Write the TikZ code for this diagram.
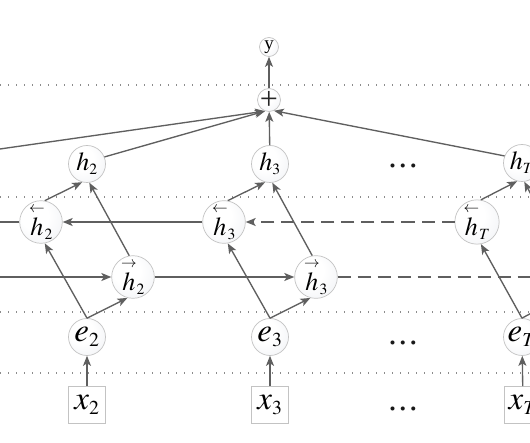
\documentclass[tikz,border=0pt]{standalone}
\usepackage{amsmath}
\usepackage{mathptmx}
\usepackage[no-math]{fontspec}
\setmainfont{Liberation Serif}
\usetikzlibrary{arrows.meta}

\definecolor{lc}{RGB}{95,95,95}
\definecolor{dc}{RGB}{140,140,140}
\definecolor{bc}{RGB}{195,195,195}
\definecolor{shA}{RGB}{246,247,249}
\definecolor{shB}{RGB}{226,230,235}
\definecolor{shC}{RGB}{200,206,212}
\pgfdeclareradialshading{nodeball}{\pgfpoint{-10bp}{10bp}}{color(0bp)=(white); color(16bp)=(white); color(30bp)=(shA); color(46bp)=(shB); color(62bp)=(shC)}

\newcommand{\hnode}[1]{{\fontsize{26}{26}\selectfont$h_{\scriptscriptstyle #1}$}}
\newcommand{\hback}[1]{{\fontsize{26}{26}\selectfont${\overset{\scriptscriptstyle\leftarrow}{h}}_{\scriptscriptstyle #1}$}}
\newcommand{\hfwd}[1]{{\fontsize{26}{26}\selectfont${\overset{\scriptscriptstyle\rightarrow}{h}}_{\scriptscriptstyle #1}$}}
\newcommand{\enode}[1]{{\fontsize{33}{33}\selectfont$e_{\scriptscriptstyle #1}$}}
\newcommand{\xnode}[1]{{\fontsize{33}{33}\selectfont$x_{\scriptscriptstyle #1}$}}
\newcommand{\dotsnode}{{\fontsize{34}{34}\selectfont .\kern2pt.\kern2pt.}}

\tikzset{
  cnode/.style={circle, draw=bc, line width=0.7pt, shading=nodeball, minimum size=37pt, inner sep=0pt},
  xbox/.style={rectangle, draw=bc, fill=white, line width=0.8pt, minimum size=37pt, inner sep=0pt},
  conn/.style={draw=lc, line width=1.35pt, -{Stealth[length=10pt,width=8pt,inset=2.5pt]}},
  plainline/.style={draw=lc, line width=1.35pt},
  dashedline/.style={dash pattern=on 13pt off 7pt},
  sepline/.style={draw=dc, line width=1.2pt, dash pattern=on 1.2pt off 6.8pt},
  dotstext/.style={inner sep=0pt, text=black!90},
}

\begin{document}
\begin{tikzpicture}[x=1pt,y=-1pt]
\useasboundingbox (0,0) rectangle (530,443);
\clip (0,0) rectangle (530,443);

% separators
\coordinate (s1a) at (0,85);  \coordinate (s1b) at (530,85);
\coordinate (s2a) at (0,197); \coordinate (s2b) at (530,197);
\coordinate (s3a) at (0,312); \coordinate (s3b) at (530,312);
\coordinate (s4a) at (0,373); \coordinate (s4b) at (530,373);
\draw[sepline] (s1a) -- (s1b);
\draw[sepline] (s2a) -- (s2b);
\draw[sepline] (s3a) -- (s3b);
\draw[sepline] (s4a) -- (s4b);

% output
\node[cnode, minimum size=19pt] (y) at (269,47) {\fontsize{19}{19}\selectfont y};
\node[cnode, minimum size=23pt] (plus) at (269,100) {};
\node[inner sep=0pt, font=\fontsize{32}{32}\selectfont, text=black!85] (plustext) at (269,100) {+};

% hidden states
\node[cnode] (h2) at (87,164) {\hnode{2}};
\node[cnode] (h3) at (270,164) {\hnode{3}};
\node[cnode] (hT) at (522,163) {\hnode{T}};

\node[cnode] (h2b) at (41,222) {\hback{2}};
\node[cnode] (h3b) at (224,222) {\hback{3}};
\node[cnode] (hTb) at (477,222) {\hback{T}};

\node[cnode] (h2f) at (133,277) {\hfwd{2}};
\node[cnode] (h3f) at (316,277) {\hfwd{3}};

\node[cnode] (e2) at (87,337) {\enode{2}};
\node[cnode] (e3) at (270,337) {\enode{3}};
\node[cnode] (eT) at (522,337) {\enode{T}};

\node[xbox] (x2) at (87,405) {\xnode{2}};
\node[xbox] (x3) at (270,405) {\xnode{3}};
\node[xbox] (xT) at (523,405) {\xnode{T}};

\node[dotstext] (d1) at (403,166) {\dotsnode};
\node[dotstext] (d2) at (403,343) {\dotsnode};
\node[dotstext] (d3) at (403,409) {\dotsnode};

% free ends at the picture's edges
\coordinate (h1o) at (0,149);
\coordinate (lb) at (0,222);
\coordinate (lf) at (0,277);
\coordinate (rf) at (530,277);
\coordinate (hTfo) at (565,259);
\coordinate (eTfo) at (563,296);

% inputs
\draw[conn] (x2) -- (e2);
\draw[conn] (x3) -- (e3);
\draw[conn] (xT) -- (eT);

% embeddings to both directions
\draw[conn] (e2.north) -- (h2b.-80);
\draw[conn] (e2.north) -- (h2f.-105);
\draw[conn] (e3.north) -- (h3b.-80);
\draw[conn] (e3.north) -- (h3f.-105);
\draw[conn] (eT.north) -- (hTb.-80);
\draw[plainline] (eT.north) -- (eTfo);

% recurrences
\draw[plainline] (h2b) -- (lb);
\draw[conn] (h3b) -- (h2b);
\draw[conn, dashedline] (hTb) -- (h3b);
\draw[conn] (lf) -- (h2f);
\draw[conn] (h2f) -- (h3f);
\draw[plainline, dashedline] (h3f) -- (rf);

% merge into h
\draw[conn] (h2b.80) -- (h2.-105);
\draw[conn] (h2f.100) -- (h2.-83);
\draw[conn] (h3b.80) -- (h3.-105);
\draw[conn] (h3f.100) -- (h3.-83);
\draw[conn] (hTb.80) -- (hT.-105);
\draw[conn] (hTfo) -- (hT.-83);

% to the sum
\draw[conn] (h1o) -- (plus.-110);
\draw[conn] (h2.22) -- (plus.-110);
\draw[conn] (h3) -- (plus);
\draw[conn] (hT.158) -- (plus.-65);
\draw[conn] (plus) -- (y);
\end{tikzpicture}
\end{document}
